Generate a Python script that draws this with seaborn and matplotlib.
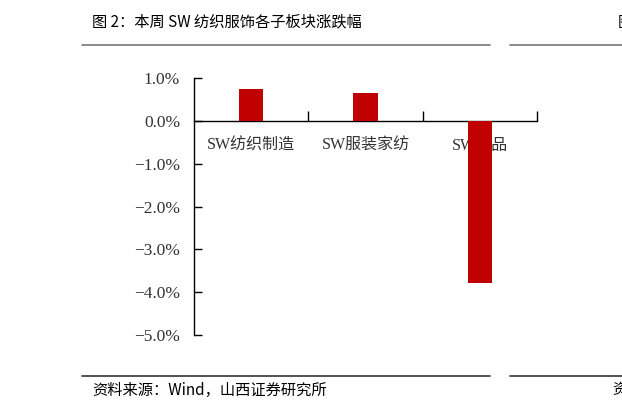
import matplotlib
matplotlib.use("Agg")
import matplotlib.pyplot as plt
import seaborn as sns
import pandas as pd
from matplotlib.ticker import FixedLocator, FuncFormatter

categories = ["SW纺织制造", "SW服装家纺", "SW饰品"]
values = [0.74, 0.64, -3.78]
yticks = [1.0, 0.0, -1.0, -2.0, -3.0, -4.0, -5.0]
title = "图 2：本周 SW 纺织服饰各子板块涨跌幅"
source = "资料来源：Wind，山西证券研究所"

sns.set_theme(style="white")
plt.rcParams['font.family'] = ['Noto Sans CJK SC', 'DejaVu Sans']
plt.rcParams['axes.unicode_minus'] = False

df = pd.DataFrame({"cat": categories, "val": values})

fig = plt.figure(figsize=(6.22, 4.11), dpi=100)
ax = fig.add_axes([194/622, 1-335/411, 343/622, (335-78)/411])

sns.barplot(data=df, x="cat", y="val", color="#C00000", width=0.21,
            saturation=1, ax=ax, zorder=3, linewidth=0, edgecolor="none")

ax.set_xlim(-0.5, 2.5)
ax.set_ylim(-5, 1)
ax.set_xlabel("")
ax.set_ylabel("")

for s in ["top", "right"]:
    ax.spines[s].set_visible(False)
ax.spines["bottom"].set_position(("data", 0))
for s in ["left", "bottom"]:
    ax.spines[s].set_color("black")
    ax.spines[s].set_linewidth(1.0)
    ax.spines[s].set_zorder(2)

ax.yaxis.set_major_locator(FixedLocator(yticks))
ax.yaxis.set_major_formatter(FuncFormatter(lambda v, p: ("−" if v < 0 else "") + f"{abs(v):.1f}%"))
ax.tick_params(axis="y", which="major", direction="in", length=6, width=1,
               color="black", left=True, pad=10, labelsize=12.5, labelcolor="#333333")
for lab in ax.get_yticklabels():
    lab.set_family(["Liberation Serif", "DejaVu Serif"])

ax.xaxis.set_major_locator(FixedLocator([0.5, 1.5, 2.5]))
ax.xaxis.set_major_formatter(FuncFormatter(lambda v, p: ""))
ax.xaxis.set_minor_locator(FixedLocator([0, 1, 2]))
ax.xaxis.set_minor_formatter(FuncFormatter(lambda v, p: categories[int(round(v))]))
ax.tick_params(axis="x", which="major", direction="in", length=7, width=1,
               color="black", bottom=True)
ax.tick_params(axis="x", which="minor", length=0, pad=12, labelsize=11.5,
               labelcolor="#333333", bottom=True)
for lab in ax.xaxis.get_minorticklabels():
    lab.set_family(["Liberation Serif", "Noto Sans CJK SC"])
ax.xaxis.set_zorder(1)
ax.grid(False)

fig.text(92/622, 1-22/411, title, fontsize=11, va="center", ha="left", color="black")
fig.text(92/622, 1-390/411, source, fontsize=11, va="center", ha="left", color="black")
fig.text(618/622, 1-22/411, "图", fontsize=11, va="center", ha="left", color="black")
fig.text(612/622, 1-390/411, "资", fontsize=11, va="center", ha="left", color="black")

for y, c in [(45, "#777777"), (376, "#333333")]:
    fig.add_artist(plt.Line2D([82/622, 490/622], [1-y/411, 1-y/411], color=c, lw=1.2))
    fig.add_artist(plt.Line2D([510/622, 1.0], [1-y/411, 1-y/411], color=c, lw=1.2))

fig.savefig("out.png", dpi=100)
